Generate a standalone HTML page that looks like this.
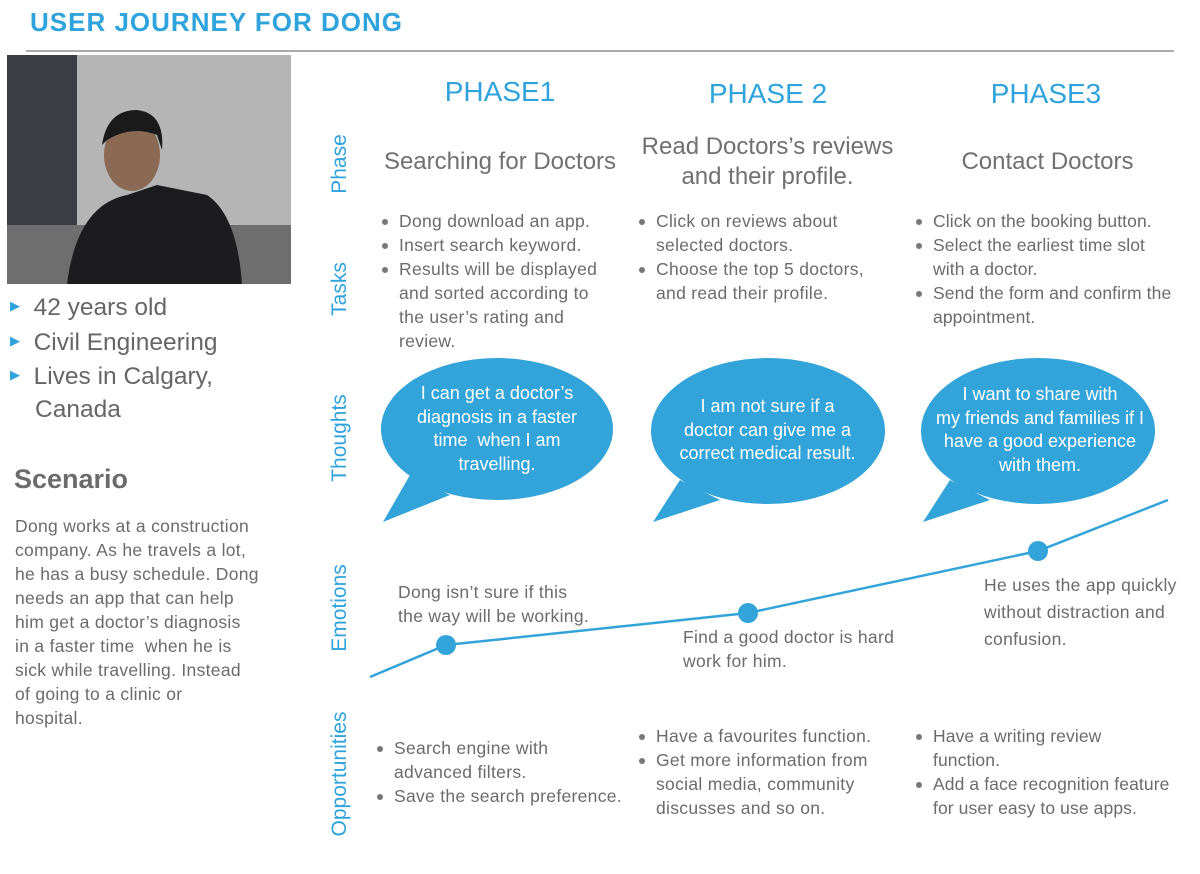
<!DOCTYPE html><html><head><style>
body{margin:0;width:1200px;height:864px;background:#fff;font-family:"Liberation Sans",sans-serif;position:relative;overflow:hidden;color:#6b6b6b}
.a{position:absolute}
.t{font-size:17.5px;line-height:24px;white-space:nowrap;letter-spacing:0.3px}
ul{margin:0;padding:0 0 0 22px;list-style:none}
li{position:relative}
li:before{content:"";position:absolute;left:-17px;top:10px;width:6px;height:6px;border-radius:50%;background:#777}
.ph{font-size:28px;color:#2fa3db;text-align:center}
.sub{font-size:24px;text-align:center;line-height:30px;color:#707070;white-space:nowrap}
.v{position:absolute;transform:rotate(-90deg);transform-origin:center;color:#2fa3db;font-size:21px;white-space:nowrap;text-align:center;width:200px}
.bub{position:absolute;color:#fff;font-size:18px;line-height:23.5px;text-align:center;white-space:nowrap}
</style></head><body>
<div class="a" style="left:30px;top:7px;font-size:26px;font-weight:bold;color:#2fa3db;letter-spacing:1px">USER JOURNEY FOR DONG</div>
<div class="a" style="left:26px;top:50px;width:1148px;height:2px;background:#aaa"></div>
<svg class="a" style="left:7px;top:55px" width="284" height="229">
<rect width="284" height="229" fill="#8a8a8a"/><rect width="70" height="229" fill="#3a3e44"/><rect x="70" width="214" height="170" fill="#b5b5b5"/><rect y="170" width="284" height="59" fill="#6e6e6e"/>
<path d="M60 229 Q70 150 120 140 L150 130 L200 140 Q230 160 235 229Z" fill="#1c1c1e"/>
<ellipse cx="125" cy="100" rx="28" ry="36" fill="#8a6a55"/><path d="M95 90 Q100 55 130 55 Q158 58 155 95 L150 80 Q125 70 100 85Z" fill="#1a1a1a"/>
</svg>
<div class="a" style="left:10px;top:290px;font-size:24.5px;line-height:32.5px;color:#666;white-space:nowrap">
<div><span style="color:#2fa3db;font-size:13px;vertical-align:5px">▶</span>&nbsp; 42 years old</div>
<div><span style="color:#2fa3db;font-size:13px;vertical-align:5px">▶</span>&nbsp; Civil Engineering</div>
<div><span style="color:#2fa3db;font-size:13px;vertical-align:5px">▶</span>&nbsp; Lives in Calgary,</div>
<div style="padding-left:25px">Canada</div></div>
<div class="a" style="left:14px;top:464px;font-size:27px;font-weight:bold;color:#6b6b6b">Scenario</div>
<div class="a t" style="left:15px;top:514px;letter-spacing:0.3px">Dong works at a construction<br>company. As he travels a lot,<br>he has a busy schedule. Dong<br>needs an app that can help<br>him get a doctor’s diagnosis<br>in a faster time&nbsp; when he is<br>sick while travelling. Instead<br>of going to a clinic or<br>hospital.</div>
<div class="v" style="left:240px;top:152px">Phase</div>
<div class="v" style="left:240px;top:277px">Tasks</div>
<div class="v" style="left:240px;top:426px">Thoughts</div>
<div class="v" style="left:240px;top:596px">Emotions</div>
<div class="v" style="left:240px;top:762px">Opportunities</div>
<div class="a ph" style="left:400px;top:76px;width:200px">PHASE1</div>
<div class="a ph" style="left:668px;top:78px;width:200px">PHASE 2</div>
<div class="a ph" style="left:946px;top:78px;width:200px">PHASE3</div>
<div class="a sub" style="left:370px;top:147px;width:260px">Searching for Doctors</div>
<div class="a sub" style="left:630px;top:132px;width:275px">Read Doctors’s reviews<br>and their profile.</div>
<div class="a sub" style="left:920px;top:147px;width:255px">Contact Doctors</div>
<div class="a t" style="left:377px;top:209px"><ul><li>Dong download an app.</li><li>Insert search keyword.</li><li>Results will be displayed<br>and sorted according to<br>the user’s rating and<br>review.</li></ul></div>
<div class="a t" style="left:634px;top:209px"><ul><li>Click on reviews about<br>selected doctors.</li><li>Choose the top 5 doctors,<br>and read their profile.</li></ul></div>
<div class="a t" style="left:911px;top:209px;letter-spacing:0.1px"><ul><li>Click on the booking button.</li><li>Select the earliest time slot<br>with a doctor.</li><li>Send the form and confirm the<br>appointment.</li></ul></div>
<svg class="a" style="left:0;top:0" width="1200" height="864">
<g fill="#33a4d9">
<ellipse cx="497" cy="429" rx="116" ry="71"/><path d="M410 475 L383 522 L450 495Z"/>
<ellipse cx="768" cy="431" rx="117" ry="73"/><path d="M680 480 L653 522 L720 500Z"/>
<ellipse cx="1038" cy="431" rx="117" ry="73"/><path d="M950 480 L923 522 L990 500Z"/>
</g>
<polyline points="370,677 446,645 748,613 1038,551 1168,500" fill="none" stroke="#33a4d9" stroke-width="2.5"/>
<g fill="#33a4d9"><circle cx="446" cy="645" r="10"/><circle cx="748" cy="613" r="10"/><circle cx="1038" cy="551" r="10"/></g>
</svg>
<div class="bub" style="left:397px;top:382px;width:200px">I can get a doctor’s<br>diagnosis in a faster<br>time&nbsp; when I am<br>travelling.</div>
<div class="bub" style="left:660px;top:395px;width:215px">I am not sure if a<br>doctor can give me a<br>correct medical result.</div>
<div class="bub" style="left:930px;top:383px;width:220px">I want to share with<br>my friends and families if I<br>have a good experience<br>with them.</div>
<div class="a t" style="left:398px;top:580px">Dong isn’t sure if this<br>the way will be working.</div>
<div class="a t" style="left:683px;top:625px">Find a good doctor is hard<br>work for him.</div>
<div class="a t" style="left:984px;top:572px;line-height:27px">He uses the app quickly<br>without distraction and<br>confusion.</div>
<div class="a t" style="left:372px;top:736px"><ul><li>Search engine with<br>advanced filters.</li><li>Save the search preference.</li></ul></div>
<div class="a t" style="left:634px;top:724px"><ul><li>Have a favourites function.</li><li>Get more information from<br>social media, community<br>discusses and so on.</li></ul></div>
<div class="a t" style="left:911px;top:724px;letter-spacing:0.1px"><ul><li>Have a writing review<br>function.</li><li>Add a face recognition feature<br>for user easy to use apps.</li></ul></div>
</body></html>
